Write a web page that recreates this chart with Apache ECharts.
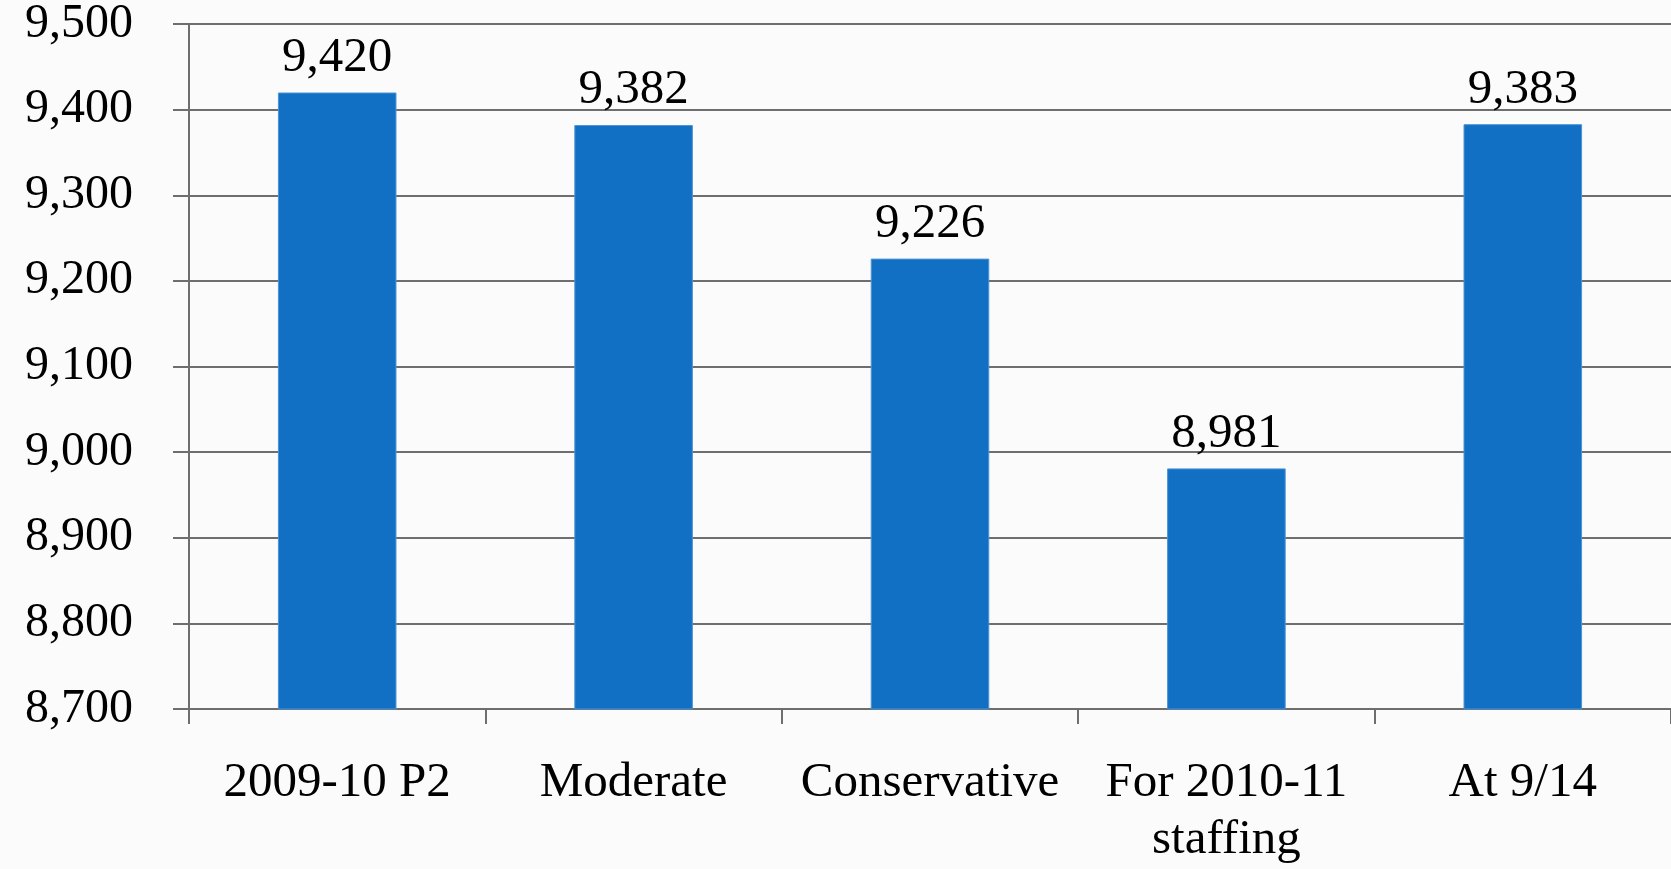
<!DOCTYPE html>
<html>
<head>
<meta charset="utf-8">
<script src="https://cdn.jsdelivr.net/npm/echarts@6/dist/echarts.min.js"></script>
<style>
html,body{margin:0;padding:0;background:#fbfbfb;}
#c{width:1671px;height:869px;}
</style>
</head>
<body>
<div id="c"></div>
<script>
const categories = ['2009-10 P2', 'Moderate', 'Conservative', 'For 2010-11\nstaffing', 'At 9/14'];
const values = [9420, 9382, 9226, 8981, 9383];
const yMin = 8700, yMax = 9500, yStep = 100;

const chart = echarts.init(document.getElementById('c'));
const font = '"Liberation Serif", serif';
const fmt = v => v.toLocaleString('en-US');
chart.setOption({
  backgroundColor: '#fbfbfb',
  animation: false,
  grid: { left: 189, right: -3, top: 22, bottom: 159, containLabel: false },
  xAxis: {
    type: 'category',
    data: categories,
    axisLine: { lineStyle: { color: '#6e6e6e', width: 2 } },
    axisTick: { show: true, length: 15, lineStyle: { color: '#6e6e6e', width: 2 } },
    axisLabel: { color: '#000', fontFamily: font, fontSize: 49, lineHeight: 57, margin: 46, interval: 0 }
  },
  yAxis: {
    type: 'value',
    min: yMin, max: yMax, interval: yStep,
    axisLine: { show: true, lineStyle: { color: '#6e6e6e', width: 2 } },
    axisTick: { show: true, length: 16, lineStyle: { color: '#6e6e6e', width: 2 } },
    splitLine: { show: true, lineStyle: { color: '#6e6e6e', width: 2 } },
    axisLabel: { color: '#000', fontFamily: font, fontSize: 48, margin: 56, formatter: fmt }
  },
  series: [{
    type: 'bar',
    data: values,
    barWidth: '40%',
    itemStyle: { color: '#1170C4', borderColor: '#4d93d6', borderWidth: 1 },
    label: { show: true, position: 'top', distance: 10, color: '#000', fontFamily: font, fontSize: 49, formatter: p => fmt(p.value) }
  }]
});
</script>
</body>
</html>
